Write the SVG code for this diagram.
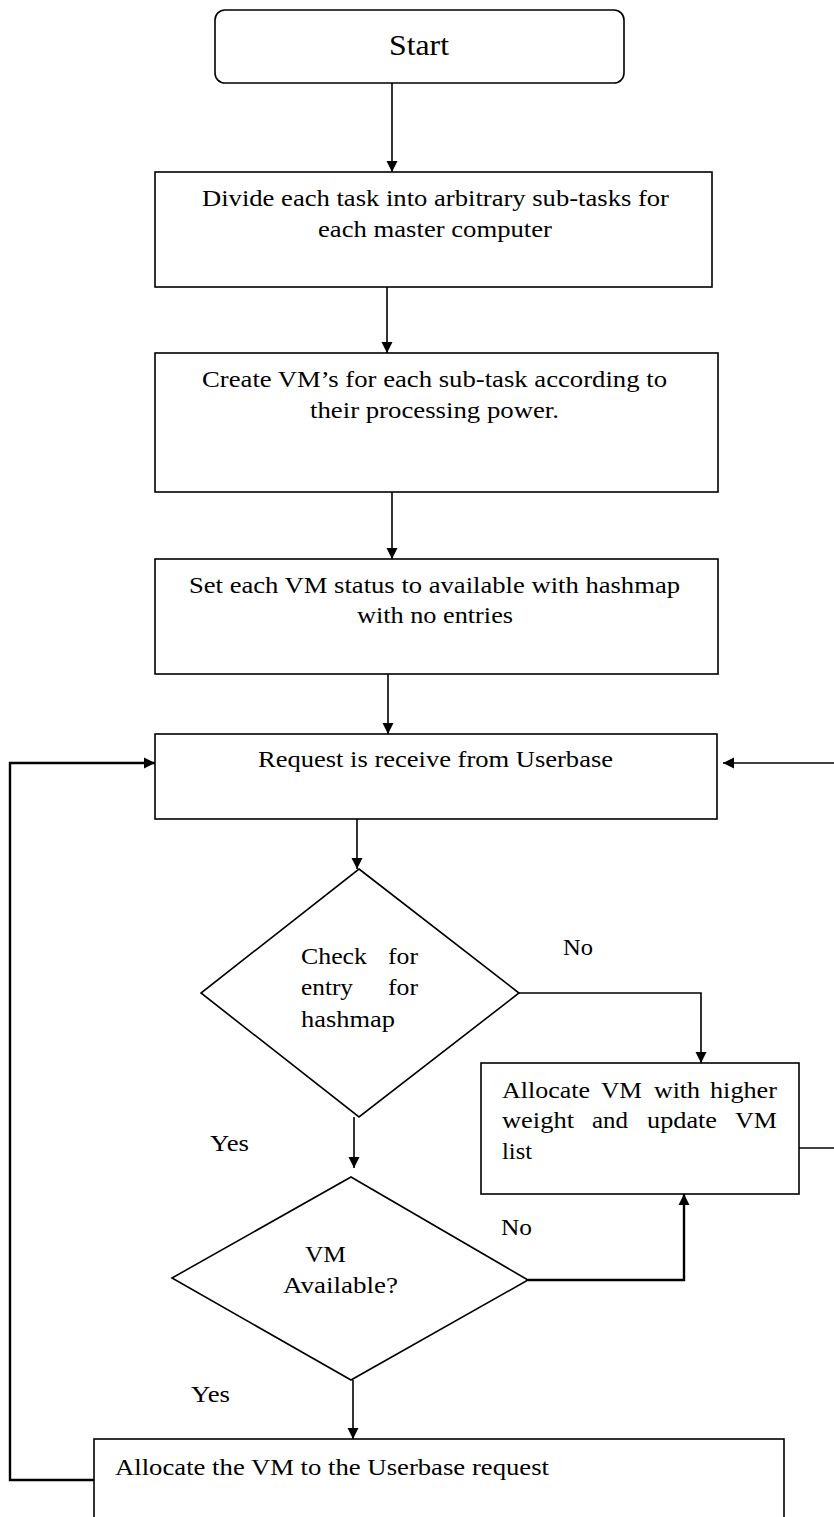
<svg xmlns="http://www.w3.org/2000/svg" width="834" height="1517" viewBox="0 0 834 1517">
<style>
.n{fill:#fff;stroke:#000;stroke-width:1.6}
.t{font-family:"Liberation Serif","Times New Roman",serif;font-size:23px;fill:#000}
.c{fill:none;stroke:#000;stroke-width:1.6}
.w{fill:none;stroke:#000;stroke-width:2.4}
</style>
<defs>
<marker id="ah" markerWidth="12" markerHeight="14" refX="11" refY="7" orient="auto" markerUnits="userSpaceOnUse">
<path d="M0,1.5 L11,7 L0,12.5 Z" fill="#000"/>
</marker>
</defs>
<rect width="834" height="1517" fill="#fff"/>
<g id="connectors">
<path class="c" d="M392,83 V172" marker-end="url(#ah)"/>
<path class="c" d="M387,287 V353" marker-end="url(#ah)"/>
<path class="c" d="M392,492 V559" marker-end="url(#ah)"/>
<path class="c" d="M388,674 V734" marker-end="url(#ah)"/>
<path class="c" d="M357,819 V869" marker-end="url(#ah)"/>
<path class="c" d="M519,993 H701 V1063" marker-end="url(#ah)"/>
<path class="c" d="M354,1117 V1168" marker-end="url(#ah)"/>
<path class="w" d="M528,1280 H684 V1194" marker-end="url(#ah)"/>
<path class="c" d="M353,1380 V1439" marker-end="url(#ah)"/>
<path class="w" d="M94,1480 H10 V763 H155" marker-end="url(#ah)"/>
<path class="c" d="M799,1148 H834"/>
<path class="c" d="M834,763 H723" marker-end="url(#ah)"/>
<text class="t" x="563" y="955" textLength="30" lengthAdjust="spacingAndGlyphs">No</text>
<text class="t" x="210" y="1151" textLength="39" lengthAdjust="spacingAndGlyphs">Yes</text>
<text class="t" x="501" y="1235" textLength="31" lengthAdjust="spacingAndGlyphs">No</text>
<text class="t" x="191" y="1402" textLength="39" lengthAdjust="spacingAndGlyphs">Yes</text>
</g>
<g id="start">
<rect class="n" x="215" y="10" width="409" height="73" rx="10"/>
<text class="t" x="389" y="55" style="font-size:30px" textLength="60" lengthAdjust="spacingAndGlyphs">Start</text>
</g>
<g id="divide">
<rect class="n" x="155" y="172" width="557" height="115"/>
<text class="t" x="202" y="206" textLength="467" lengthAdjust="spacingAndGlyphs">Divide each task into arbitrary sub-tasks for</text>
<text class="t" x="318" y="237" textLength="234" lengthAdjust="spacingAndGlyphs">each master computer</text>
</g>
<g id="create">
<rect class="n" x="155" y="353" width="563" height="139"/>
<text class="t" x="202" y="387" textLength="465" lengthAdjust="spacingAndGlyphs">Create VM’s for each sub-task according to</text>
<text class="t" x="310" y="418" textLength="249" lengthAdjust="spacingAndGlyphs">their processing power.</text>
</g>
<g id="setstatus">
<rect class="n" x="155" y="559" width="563" height="115"/>
<text class="t" x="189" y="593" textLength="491" lengthAdjust="spacingAndGlyphs">Set each VM status to available with hashmap</text>
<text class="t" x="357" y="623" textLength="156" lengthAdjust="spacingAndGlyphs">with no entries</text>
</g>
<g id="request">
<rect class="n" x="155" y="734" width="562" height="85"/>
<text class="t" x="258" y="767" textLength="355" lengthAdjust="spacingAndGlyphs">Request is receive from Userbase</text>
</g>
<g id="check">
<polygon class="n" points="359,869 519,993 359,1117 201,993"/>
<text class="t" x="301" y="964" textLength="66" lengthAdjust="spacingAndGlyphs">Check</text>
<text class="t" x="388" y="964" textLength="30" lengthAdjust="spacingAndGlyphs">for</text>
<text class="t" x="301" y="995" textLength="52" lengthAdjust="spacingAndGlyphs">entry</text>
<text class="t" x="388" y="995" textLength="30" lengthAdjust="spacingAndGlyphs">for</text>
<text class="t" x="301" y="1027" textLength="94" lengthAdjust="spacingAndGlyphs">hashmap</text>
</g>
<g id="allocatehigher">
<rect class="n" x="481" y="1063" width="318" height="131"/>
<text class="t" x="502" y="1098" textLength="88" lengthAdjust="spacingAndGlyphs">Allocate</text>
<text class="t" x="601" y="1098" textLength="41" lengthAdjust="spacingAndGlyphs">VM</text>
<text class="t" x="654" y="1098" textLength="46" lengthAdjust="spacingAndGlyphs">with</text>
<text class="t" x="710" y="1098" textLength="67" lengthAdjust="spacingAndGlyphs">higher</text>
<text class="t" x="502" y="1128" textLength="72" lengthAdjust="spacingAndGlyphs">weight</text>
<text class="t" x="592" y="1128" textLength="36" lengthAdjust="spacingAndGlyphs">and</text>
<text class="t" x="647" y="1128" textLength="70" lengthAdjust="spacingAndGlyphs">update</text>
<text class="t" x="735" y="1128" textLength="42" lengthAdjust="spacingAndGlyphs">VM</text>
<text class="t" x="502" y="1159" textLength="30" lengthAdjust="spacingAndGlyphs">list</text>
</g>
<g id="available">
<polygon class="n" points="351,1177 528,1280 351,1380 172,1278"/>
<text class="t" x="305" y="1262" textLength="41" lengthAdjust="spacingAndGlyphs">VM</text>
<text class="t" x="283" y="1293" textLength="115" lengthAdjust="spacingAndGlyphs">Available?</text>
</g>
<g id="allocate">
<rect class="n" x="94" y="1439" width="690" height="120"/>
<text class="t" x="115" y="1475" textLength="434" lengthAdjust="spacingAndGlyphs">Allocate the VM to the Userbase request</text>
</g>
</svg>
